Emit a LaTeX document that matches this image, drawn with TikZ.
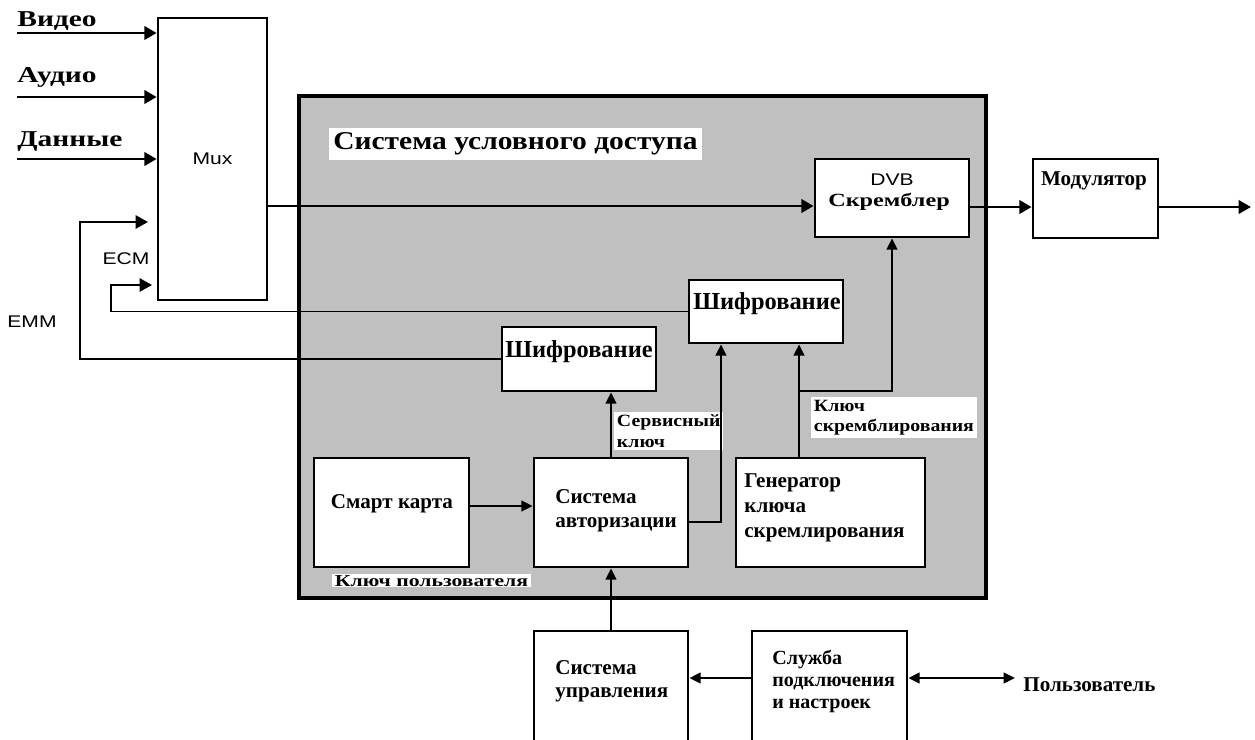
\documentclass[tikz,border=0pt]{standalone}
\usepackage{fontspec}
\setmainfont{Liberation Serif}
\setsansfont{Liberation Sans}[FakeStretch=1.25]
\newfontfamily\widefont{Liberation Serif}[FakeStretch=1.3]
\newfontfamily\midfont{Liberation Serif}[FakeStretch=1.15]
\usetikzlibrary{arrows.meta,calc,positioning,fit}
\definecolor{casgray}{RGB}{192,192,192}
\tikzset{
  blk/.style={draw, line width=1.5pt, fill=white, inner sep=0pt},
  arr/.style={line width=1.7pt, -{Triangle[length=7pt,width=7.5pt]}},
  arrs/.style={line width=1.4pt, -{Triangle[length=6.5pt,width=6pt]}},
  lp/.style={line width=1.1pt, -{Triangle[length=7pt,width=7.5pt]}},
  tx/.style={inner sep=0pt, align=left, font=\fontsize{12}{13.6}\selectfont\bfseries},
  big/.style={inner sep=0pt, font=\fontsize{13.9}{15}\selectfont\bfseries},
  lbl/.style={inner sep=0pt, font=\widefont\fontsize{12.9}{15}\selectfont\bfseries},
  tag/.style={fill=white, inner sep=1.5pt, align=left, font=\midfont\fontsize{9.8}{11.6}\selectfont\bfseries},
  ax/.style={inner sep=0pt, font=\sffamily\fontsize{9.6}{11}\selectfont}
}
\begin{document}
\begin{tikzpicture}[x=0.02cm, y=-0.02cm]
\useasboundingbox (0,0) rectangle (1255,740);
\clip (0,0) rectangle (1255,740);
\node[draw, fill=casgray, line width=1.8pt, inner sep=0pt, fit={(299,96) (986,598)}] (cas) {};
\node[fill=white, inner sep=0pt, minimum width=7.46cm, minimum height=0.64cm, font=\midfont\fontsize{14.6}{16}\selectfont\bfseries] (title) at (515.5,144) {Система условного доступа};
\node[blk, fit={(158,18) (267,300)}] (mux) {};
\node[ax] (muxt) at (mux.center) {Mux};
\node[blk, fit={(815,159) (969,237)}] (dvb) {};
\node[ax] (dvbt) at (892,180) {DVB};
\node[lbl, font=\widefont\fontsize{10.6}{12}\selectfont\bfseries, anchor=base] (dvbs) at (889,207) {Скремблер};
\node[blk, fit={(1033,159) (1158,238)}] (mod) {};
\node[tx, anchor=base] (modt) at (1094,186) {Модулятор};
\node[blk, fit={(689,280) (843,343)}] (shif2) {};
\node[big, anchor=base] (shif2t) at (767,309) {Шифрование};
\node[blk, fit={(502,327) (656,391)}] (shif1) {};
\node[big, anchor=base] (shif1t) at (579,357) {Шифрование};
\node[blk, fit={(314,458) (469,567)}] (smart) {};
\node[tx, anchor=base] (smartt) at (392,508) {Смарт карта};
\node[blk, fit={(534,458) (688,567)}] (auth) {};
\node[tx, anchor=base west] (autht) at (555,527) {Система\\авторизации};
\node[blk, fit={(736,458) (925,567)}] (gen) {};
\node[tx, font=\fontsize{12}{14.2}\selectfont\bfseries, anchor=base west] (gent) at (744,537) {Генератор\\ключа\\скремлирования};
\node[blk, fit={(534,631) (688,760)}] (ctrl) {};
\node[tx, font=\fontsize{12}{12.8}\selectfont\bfseries, anchor=base west] (ctrlt) at (555,697) {Система\\управления};
\node[blk, fit={(752,631) (907,760)}] (serv) {};
\node[tx, font=\fontsize{11.4}{12.4}\selectfont\bfseries, anchor=base west] (servt) at (772,708) {Служба\\подключения\\и настроек};
\node[tag, anchor=north west] (skey) at (614,412) {Сервисный\\ключ};
\node[tag, anchor=north west] (scrkey) at (811,397) {Ключ\\скремблирования};
\node[tag, font=\widefont\fontsize{9.5}{11}\selectfont\bfseries, anchor=north west, inner ysep=0.5pt] (ukey) at (332,574) {Ключ пользователя};
\node[tx, anchor=base west] (user) at (1023,691) {Пользователь};
\node[lbl, anchor=base west] (lvid) at (17,27) {Видео};
\node[lbl, anchor=base west] (laud) at (17,83) {Аудио};
\node[lbl, anchor=base west] (ldat) at (17,147) {Данные};
\node[ax] (ecm) at (126,259) {ECM};
\node[ax] (emm) at (32,322) {EMM};
\coordinate (vin) at (17,33);
\coordinate (ain) at (17,97);
\coordinate (din) at (17,159);
\draw[arr] (vin) -- (vin -| mux.west);
\draw[arr] (ain) -- (ain -| mux.west);
\draw[arr] (din) -- (din -| mux.west);
\coordinate (ts) at (0,206);
\coordinate (tm) at (0,207);
\coordinate (out) at (1251,207);
\draw[arr] (mux.east |- ts) -- (dvb.west |- ts);
\draw[arr] (dvb.east |- tm) -- (mod.west |- tm);
\draw[arr] (mod.east |- out) -- (out);
\coordinate (emmin) at (148,222);
\coordinate (ecmin) at (152,285);
\draw[lp] (shif1.west) -| (emmin -| 80,0) -- (emmin);
\draw[lp] (shif2.west) -| (ecmin -| 111,0) -- (ecmin);
\coordinate (sk) at (721,522);
\coordinate (ks) at (799,391);
\coordinate (sa) at (0,506);
\coordinate (sy) at (0,678);
\coordinate (usr) at (1015,678);
\draw[arrs] (auth.north) -- (shif1.south -| auth.north);
\draw[arrs] (auth.east |- sk) -| (shif2.south -| sk);
\draw[arrs] (gen.north -| ks) -- (shif2.south -| ks);
\draw[arrs] (ks) -| (dvb.south);
\draw[arrs] (smart.east |- sa) -- (auth.west |- sa);
\draw[arrs] (ctrl.north) -- (auth.south);
\draw[arrs] (serv.west |- sy) -- (ctrl.east |- sy);
\draw[arrs, {Triangle[length=6.5pt,width=6pt]}-{Triangle[length=6.5pt,width=6pt]}] (serv.east |- sy) -- (usr);
\end{tikzpicture}
\end{document}
